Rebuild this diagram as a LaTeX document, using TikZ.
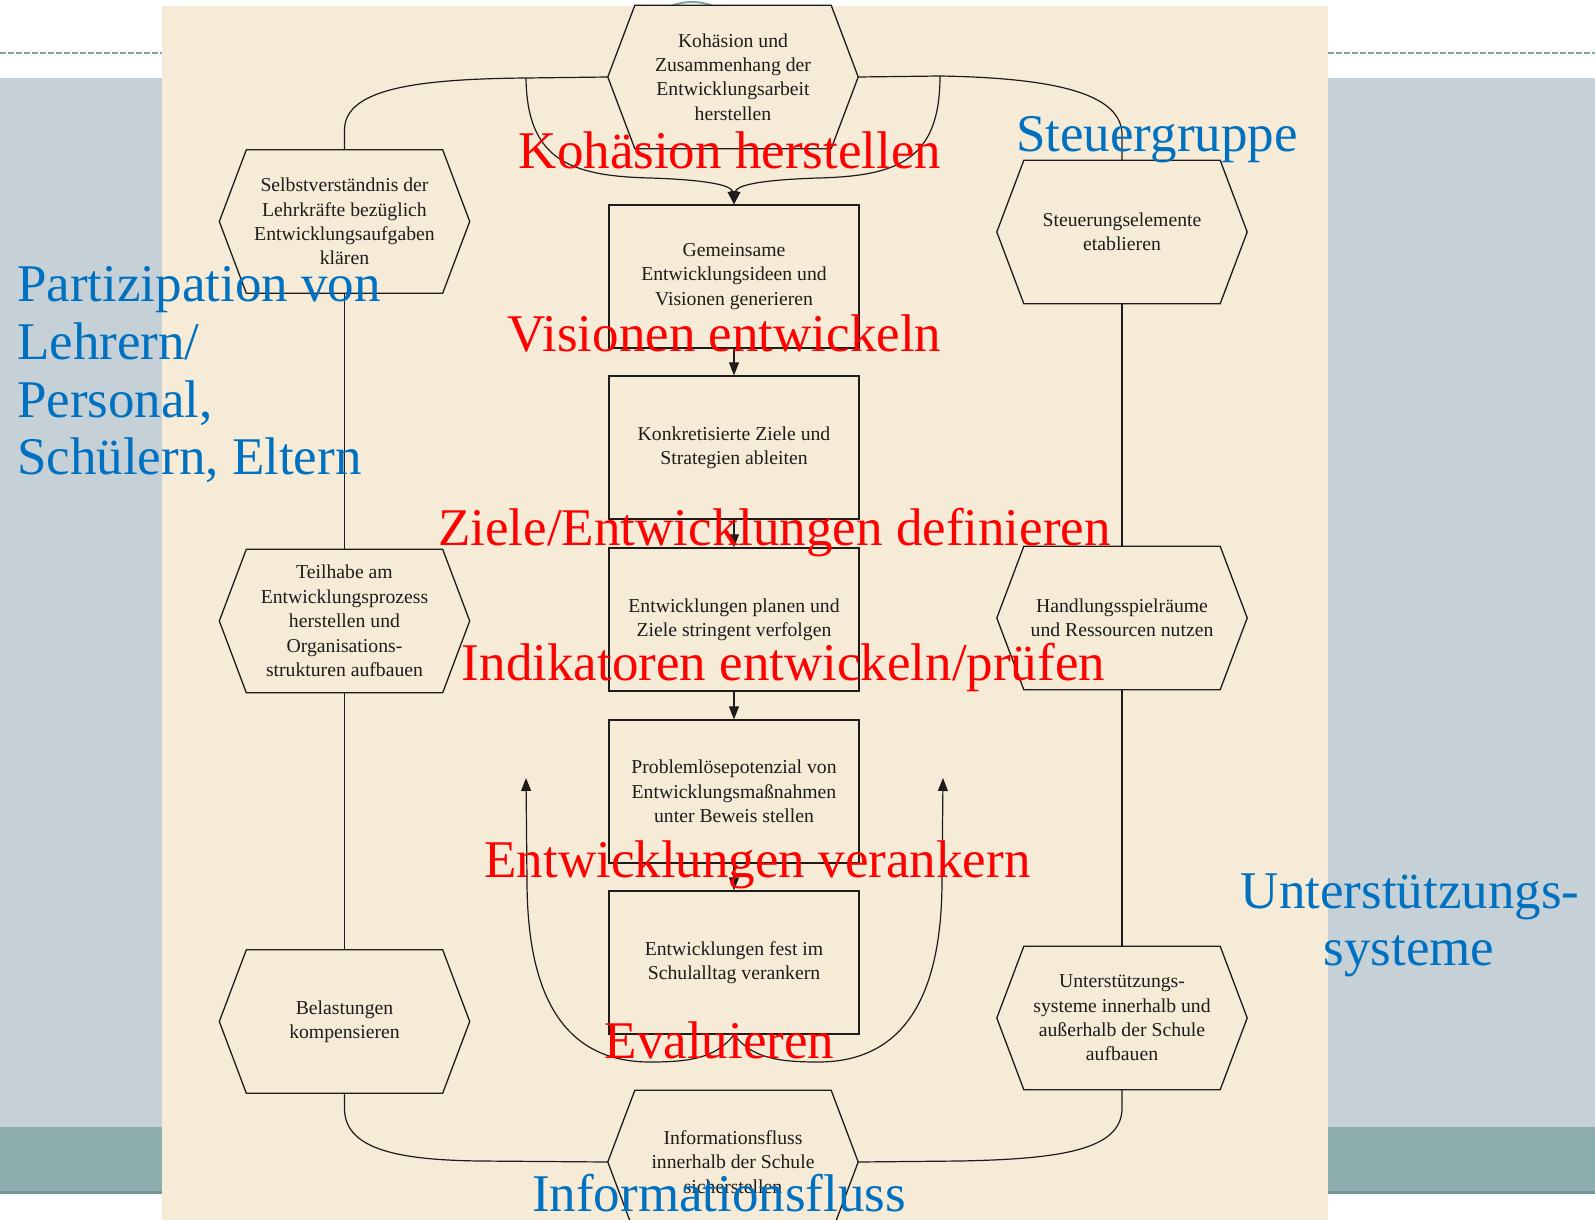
\documentclass[tikz,border=0pt]{standalone}
\usepackage{fontspec}
\setmainfont{Liberation Serif}
\usetikzlibrary{arrows.meta}
\definecolor{paper}{RGB}{245,235,215}
\definecolor{slidegray}{RGB}{198,209,215}
\definecolor{slideteal}{RGB}{139,173,173}
\definecolor{slidetealdark}{RGB}{118,150,150}
\definecolor{dashc}{RGB}{130,165,165}
\definecolor{ink}{RGB}{30,28,26}
\definecolor{ovred}{RGB}{255,0,0}
\definecolor{ovblue}{RGB}{0,112,192}
\tikzset{
  hexnode/.style={minimum width=250pt, minimum height=143pt, inner sep=0pt, align=center, text=ink, font=\fontsize{19.7}{24.4}\selectfont},
  boxnode/.style={draw=ink, line width=1.3pt, minimum width=250pt, minimum height=143pt, inner sep=0pt, align=center, text=ink, font=\fontsize{19.7}{24.4}\selectfont},
  hexline/.style={draw=ink, line width=1.3pt, line join=miter},
  conn/.style={draw=ink, line width=1.2pt},
  arr/.style={conn, -{Triangle[length=13pt,width=10pt]}},
  redlabel/.style={text=ovred, font=\fontsize{53}{58}\selectfont, anchor=base, inner sep=0pt},
  bluelabel/.style={text=ovblue, font=\fontsize{53}{58}\selectfont, anchor=base, inner sep=0pt},
}
\begin{document}
\begin{tikzpicture}[x=1pt,y=-1pt]
\useasboundingbox (0,0) rectangle (1595,1220);
% slide background
\fill[white] (0,0) rectangle (1595,1220);
\draw[dashc, line width=2pt, dash pattern=on 5.5pt off 2.5pt] (0,53) -- (1595,53);
\fill[slidegray] (0,78) rectangle (1595,1127);
\fill[slideteal] (0,1127) rectangle (1595,1191);
\fill[slidetealdark] (0,1191) rectangle (1595,1193.5);
\begin{scope}
\clip (600,0) rectangle (800,6);
\draw[dashc, line width=2pt] (692,59) circle[radius=57pt];
\end{scope}
% scanned page
\fill[paper] (162,6) rectangle (1328,1220);

% hexagon nodes
\node[hexnode] (K) at (733,77) {Kohäsion und\\Zusammenhang der\\Entwicklungsarbeit\\herstellen};
\node[hexnode] (S) at (344.5,221.5) {Selbstverständnis der\\Lehrkräfte bezüglich\\Entwicklungsaufgaben\\klären};
\node[hexnode] (T) at (344.5,621) {Teilhabe am\\Entwicklungsprozess\\herstellen und\\Organisations-\\strukturen aufbauen};
\node[hexnode] (B) at (344.5,1021.5) {Belastungen\\kompensieren};
\node[hexnode] (St) at (1122,232) {Steuerungselemente\\etablieren};
\node[hexnode] (H) at (1122,618) {Handlungsspielräume\\und Ressourcen nutzen};
\node[hexnode] (U) at (1122,1018) {Unterstützungs-\\systeme innerhalb und\\außerhalb der Schule\\aufbauen};
\node[hexnode] (I) at (733,1162) {Informationsfluss\\innerhalb der Schule\\sicherstellen};
\foreach \n in {K,S,T,B,St,H,U,I}
  \draw[hexline] ([xshift=27pt]\n.north west) -- ([xshift=-27pt]\n.north east) -- (\n.east)
    -- ([xshift=-27pt]\n.south east) -- ([xshift=27pt]\n.south west) -- (\n.west) -- cycle;

% box chain
\node[boxnode] (b1) at (734,276.5) {Gemeinsame\\Entwicklungsideen und\\Visionen generieren};
\node[boxnode] (b2) at (734,447.5) {Konkretisierte Ziele und\\Strategien ableiten};
\node[boxnode] (b3) at (734,619.5) {Entwicklungen planen und\\Ziele stringent verfolgen};
\node[boxnode] (b4) at (734,791.5) {Problemlösepotenzial von\\Entwicklungsmaßnahmen\\unter Beweis stellen};
\node[boxnode] (b5) at (734,962.5) {Entwicklungen fest im\\Schulalltag verankern};
\draw[arr] (b1.south) -- (b2.north);
\draw[arr] (b2.south) -- (b3.north);
\draw[arr] (b3.south) -- (b4.north);
\draw[arr] (b4.south) -- (b5.north);

% top connectors
\coordinate (jl) at (526,78);
\coordinate (jr) at (940,76);
\draw[conn] (K.west) -- (jl) .. controls (420,79) and (344.5,88) .. (344.5,130) -- (S.north);
\draw[conn] (K.east) -- (jr) .. controls (1060,78) and (1122,95) .. (1122,135) -- (St.north);
\draw[arr] (jl) .. controls (527,160) and (570,176) .. (650,178) .. controls (712,180) and (732,186) .. (b1.north);
\draw[arr] (jr) .. controls (940,160) and (898,176) .. (818,178) .. controls (756,180) and (736,186) .. (b1.north);

% side verticals
\draw[conn] (S.south) -- (T.north);
\draw[conn] (T.south) -- (B.north);
\draw[conn] (St.south) -- (H.north);
\draw[conn] (H.south) -- (U.north);

% bottom connectors
\draw[conn] (B.south) -- (344.5,1110) .. controls (346,1150) and (400,1160) .. (480,1161) -- (I.west);
\draw[conn] (U.south) -- (1122,1110) .. controls (1120,1150) and (1060,1159) .. (960,1161) -- (I.east);

% evaluation loops
\coordinate (eL) at (526,778);
\coordinate (eR) at (943,778);
\draw[arr] (b5.south) .. controls (716,1058) and (690,1062) .. (650,1062) .. controls (560,1062) and (527,990) .. (527,880) -- (eL);
\draw[arr] (b5.south) .. controls (752,1058) and (778,1062) .. (818,1062) .. controls (908,1062) and (942,990) .. (942,880) -- (eR);

% overlay labels
\node[redlabel] (r1) at (730,168) {Kohäsion herstellen};
\node[redlabel] (r2) at (724.5,351) {Visionen entwickeln};
\node[redlabel] (r3) at (774.5,545) {Ziele/Entwicklungen definieren};
\node[redlabel] (r4) at (783.5,680) {Indikatoren entwickeln/prüfen};
\node[redlabel] (r5) at (757.5,877) {Entwicklungen verankern};
\node[redlabel] (r6) at (719.5,1058) {Evaluieren};

\node[bluelabel] (g1) at (1157,152) {Steuergruppe};
\node[bluelabel, anchor=base west] (p1) at (17,301) {Partizipation von};
\node[bluelabel, anchor=base west] (p2) at (17,359) {Lehrern/};
\node[bluelabel, anchor=base west] (p3) at (17,417) {Personal,};
\node[bluelabel, anchor=base west] (p4) at (17,474) {Schülern, Eltern};
\node[bluelabel] (u1) at (1410,908) {Unterstützungs-};
\node[bluelabel] (u2) at (1409,965) {systeme};
\node[bluelabel] (i1) at (719,1211) {Informationsfluss};
\end{tikzpicture}
\end{document}
